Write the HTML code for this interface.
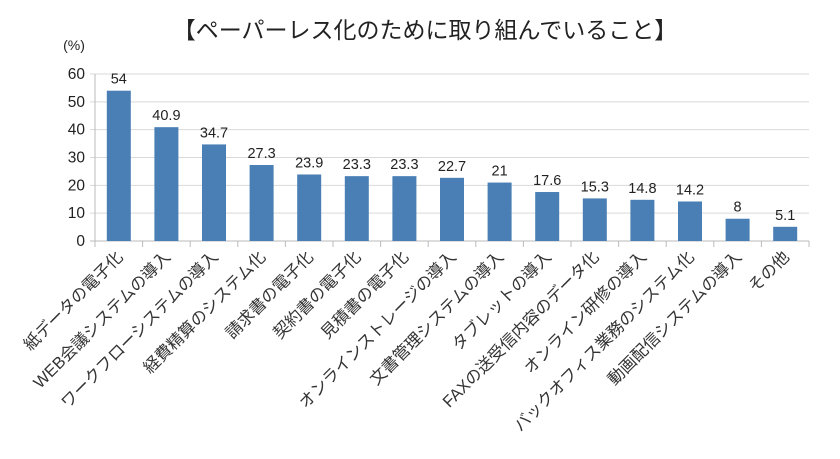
<!DOCTYPE html>
<html><head><meta charset="utf-8"><style>
body{margin:0;background:#fff;width:840px;height:454px;overflow:hidden}
svg{font-family:"Liberation Sans","Noto Sans CJK JP",sans-serif}
</style></head><body>
<svg id="chart" width="840" height="454">
<text x="425" y="38" text-anchor="middle" font-size="23" fill="#222">【ペーパーレス化のために取り組んでいること】</text>
<text x="74" y="50" text-anchor="middle" font-size="14" fill="#222">(%)</text>
<g id="grid"></g><g id="bars"></g><g id="labels"></g>
</svg>
<script>
const categories=["紙データの電子化","WEB会議システムの導入","ワークフローシステムの導入","経費精算のシステム化","請求書の電子化","契約書の電子化","見積書の電子化","オンラインストレージの導入","文書管理システムの導入","タブレットの導入","FAXの送受信内容のデータ化","オンライン研修の導入","バックオフィス業務のシステム化","動画配信システムの導入","その他"];
const values=[54,40.9,34.7,27.3,23.9,23.3,23.3,22.7,21,17.6,15.3,14.8,14.2,8,5.1];
const ticks=[0,10,20,30,40,50,60];
const NS="http://www.w3.org/2000/svg";
const x0=95,x1=809,y0=241,y60=74;
const step=(x1-x0)/categories.length;
const y=v=>y0-(v/60)*(y0-y60);
const xc=i=>x0+step*(i+0.5);
function mk(tag,attrs,parent,text){const e=document.createElementNS(NS,tag);for(const k in attrs)e.setAttribute(k,attrs[k]);if(text!==undefined)e.textContent=text;document.getElementById(parent).appendChild(e);return e;}
ticks.forEach(t=>{
 const l=mk('line',{x1:x0-5,x2:x1,y1:y(t),y2:y(t),stroke:t===0?'#bbb':'#d9d9d9','stroke-width':1},'grid');
 
 
 const tx=mk('text',{x:x0-10,y:y(t)+5,'text-anchor':'end','font-size':15.5,fill:'#222'},'grid',t);
 
 
});
const ax=mk('line',{x1:x0,x2:x0,y1:y60,y2:y0+6,stroke:'#bbb'},'grid');


for(let i=0;i<=categories.length;i++){
 const t=mk('line',{x1:x0+step*i,x2:x0+step*i,y1:y0,y2:y0+6,stroke:'#bbb'},'grid');
 
 
}
categories.forEach((c,i)=>{
 const v=values[i],bw=24;
 const r=mk('rect',{x:xc(i)-bw/2,y:y(v),width:bw,height:y0-y(v),fill:'#4a7fb5'},'bars');
 
 
 const vl=mk('text',{x:xc(i),y:y(v)-7,'text-anchor':'middle','font-size':14.5,fill:'#222'},'labels',v);
 
 
 const cl=mk('text',{x:xc(i)+5,y:258,'text-anchor':'end','font-size':16.5,fill:'#333',transform:`rotate(-45 ${xc(i)+5} 258)`},'labels',c);
 
 
});
</script>
</body></html>
